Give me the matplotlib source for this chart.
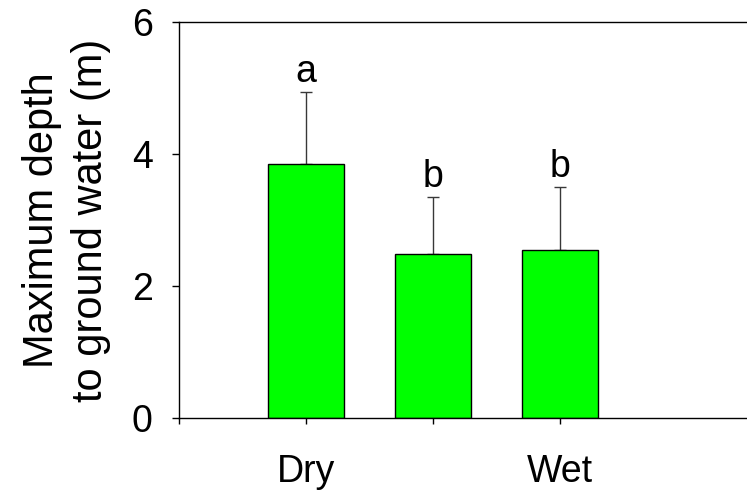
import matplotlib.pyplot as plt
import numpy as np

plt.rcParams['font.family'] = ['Liberation Sans', 'DejaVu Sans']

# Mean maximum depth to ground water per site group, with SD
positions = [1, 2, 3]
depth_mean = [3.85, 2.48, 2.55]
depth_sd = [1.09, 0.87, 0.95]
letters = ['a', 'b', 'b']

tick_pos = [0, 1, 2, 3]
tick_labels = ['', 'Dry', '', 'Wet']
y_ticks = [0, 2, 4, 6]


def main():
    fig = plt.figure(figsize=(7.47, 4.92), dpi=100)
    # axes run past the right edge of the figure
    ax = fig.add_axes([179 / 747, 74 / 492, 635 / 747, 396 / 492])

    ax.bar(positions, depth_mean, width=0.6, color='#00ff00',
           edgecolor='black', linewidth=1.0, zorder=2)
    ax.errorbar(positions, depth_mean,
                yerr=[np.zeros(len(depth_sd)), depth_sd],
                fmt='none', ecolor='#383838', elinewidth=1.0,
                capsize=4, capthick=1.0, zorder=1)

    for x, m, s, lab in zip(positions, depth_mean, depth_sd, letters):
        ax.annotate(lab, (x, m + s), xytext=(0, 7), textcoords='offset points',
                    ha='center', va='baseline', fontsize=27)

    ax.set_xlim(0, 5)
    ax.set_ylim(0, 6)
    ax.set_xticks(tick_pos)
    ax.set_xticklabels(tick_labels)
    ax.set_yticks(y_ticks)

    ax.spines['right'].set_visible(False)
    for sp in ['left', 'bottom', 'top']:
        ax.spines[sp].set_linewidth(1.0)

    ax.tick_params(axis='y', direction='out', length=5, width=1,
                   labelsize=27, pad=14)
    ax.tick_params(axis='x', direction='out', length=4, width=1,
                   labelsize=27, pad=22)

    ax.set_ylabel('Maximum depth\nto ground water (m)', fontsize=30,
                  labelpad=15, linespacing=1.28)

    fig.savefig('out.png', dpi=100)


if __name__ == '__main__':
    main()
